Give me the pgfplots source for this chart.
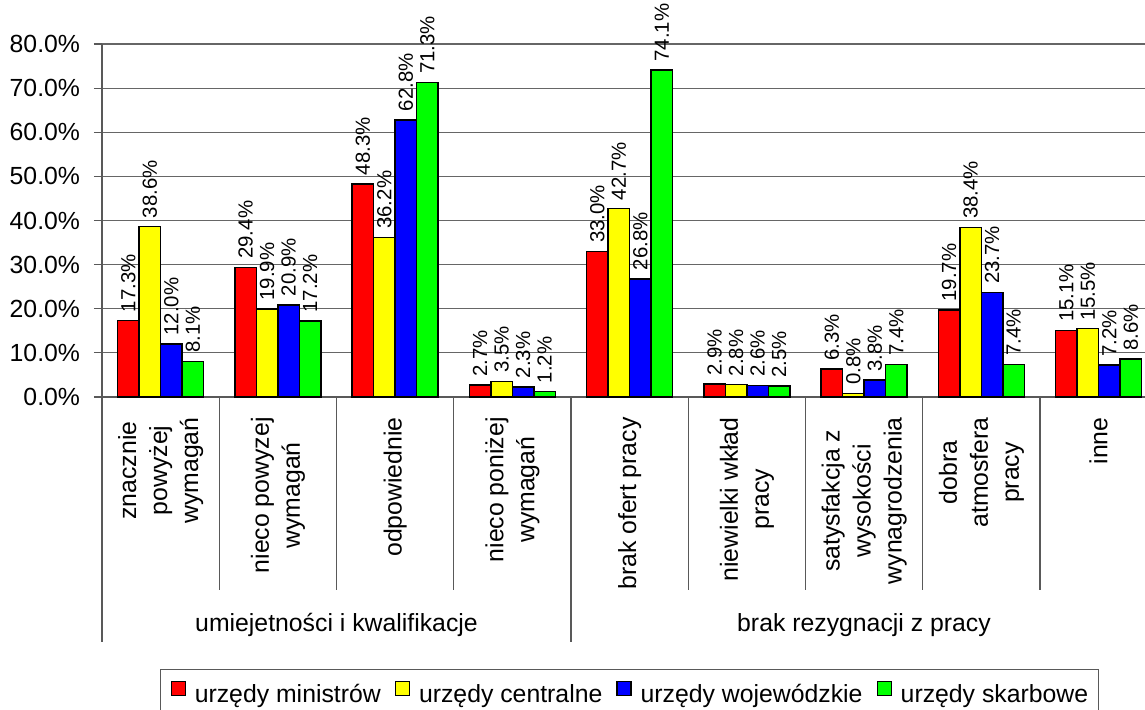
\documentclass[border=0pt]{standalone}
\usepackage{fontspec}
\setmainfont{Liberation Sans}
\usepackage{pgfplots}
\pgfplotsset{compat=1.18}

\definecolor{serRed}{RGB}{255,0,0}
\definecolor{serYellow}{RGB}{255,255,0}
\definecolor{serBlue}{RGB}{0,0,255}
\definecolor{serGreen}{RGB}{0,255,0}
\colorlet{frameGray}{black!65}

\newcommand\mainfont{\fontsize{12.4}{15.5}\selectfont}
\newcommand\valfont{\fontsize{10.2}{12}\selectfont}

\begin{document}
\begin{tikzpicture}
\begin{axis}[
  at={(0pt,0pt)}, anchor=south west,
  scale only axis, width=527.625pt, height=176.5pt,
  xmin=-0.5, xmax=8.5, ymin=0, ymax=80,
  clip=false,
  ybar=0pt, bar width=10.75pt,
  axis x line*=bottom, axis y line*=left,
  axis line style={-, draw=frameGray, line width=0.6pt},
  ymajorgrids, grid style={draw=black!60, line width=0.6pt},
  tick align=outside, major tick length=4pt,
  ytick={0,10,...,80},
  ytick style={draw=frameGray, line width=0.6pt},
  /pgf/number format/assume math mode=true,
  yticklabel={\pgfmathprintnumber[fixed,fixed zerofill,precision=1]{\tick}\%},
  yticklabel style={font=\mainfont, inner xsep=6.8pt},
  xtick={0,...,8},
  xtick style={draw=none},
  xticklabels={{znacznie\\powyżej\\wymagań},{nieco powyzej\\wymagań},{odpowiednie},{nieco poniżej\\wymagań},{brak ofert pracy},{niewielki wkład\\pracy},{satysfakcja z\\wysokości\\wynagrodzenia},{dobra\\atmosfera\\pracy},{inne}},
  xticklabel style={rotate=90, anchor=east, align=center, font=\mainfont, inner xsep=6pt},
  nodes near coords={\pgfmathprintnumber[fixed,fixed zerofill,precision=1]{\pgfplotspointmeta}\%},
  every node near coord/.append style={rotate=90, anchor=west, font=\valfont, inner xsep=4.3pt, inner ysep=0pt, outer sep=0pt, text=black},
  legend columns=4,
  legend image code/.code={\draw[#1, line width=0.6pt] (0pt,0pt) rectangle (7pt,7pt);},
  legend style={
    at={(0.05496,-0.77054)}, anchor=north west,
    draw=frameGray, line width=0.6pt,
    font=\mainfont,
    inner xsep=5pt, inner ysep=5.5pt,
    nodes={inner sep=0pt},
    /tikz/every odd column/.append style={column sep=4.5pt},
    /tikz/every even column/.append style={column sep=7pt},
  },
]
\addplot[fill=serRed, draw=black, line width=0.75pt]
  coordinates {(0,17.3) (1,29.4) (2,48.3) (3,2.7) (4,33.0) (5,2.9) (6,6.3) (7,19.7) (8,15.1)};
\addlegendentry{urzędy ministrów}
\addplot[fill=serYellow, draw=black, line width=0.75pt]
  coordinates {(0,38.6) (1,19.9) (2,36.2) (3,3.5) (4,42.7) (5,2.8) (6,0.8) (7,38.4) (8,15.5)};
\addlegendentry{urzędy centralne}
\addplot[fill=serBlue, draw=black, line width=0.75pt]
  coordinates {(0,12.0) (1,20.9) (2,62.8) (3,2.3) (4,26.8) (5,2.6) (6,3.8) (7,23.7) (8,7.2)};
\addlegendentry{urzędy wojewódzkie}
\addplot[fill=serGreen, draw=black, line width=0.75pt]
  coordinates {(0,8.1) (1,17.2) (2,71.3) (3,1.2) (4,74.1) (5,2.5) (6,7.4) (7,7.4) (8,8.6)};
\addlegendentry{urzędy skarbowe}
\end{axis}

% category separators and group labels below the axis (1 unit = 0.5pt)
\begin{scope}[shift={(-51pt,198.5pt)}, x=0.5pt, y=-0.5pt]
  \draw[frameGray, line width=0.6pt] (102,397) -- (102,642);
  \foreach \k in {1,2,3,5,6,7,8}
    \draw[frameGray, line width=0.6pt] (102+117.25*\k,397) -- ++(0,193);
  \draw[frameGray, line width=0.6pt] (571,397) -- (571,642);
  \node[font=\mainfont, anchor=base, inner sep=0pt] at (336.5,631) {umiejetności i kwalifikacje};
  \node[font=\mainfont, anchor=base, inner sep=0pt] at (864,631) {brak rezygnacji z pracy};
\end{scope}

\pgfresetboundingbox
\useasboundingbox (-51pt,-156pt) rectangle (521.5pt,198.5pt);
\end{tikzpicture}
\end{document}
